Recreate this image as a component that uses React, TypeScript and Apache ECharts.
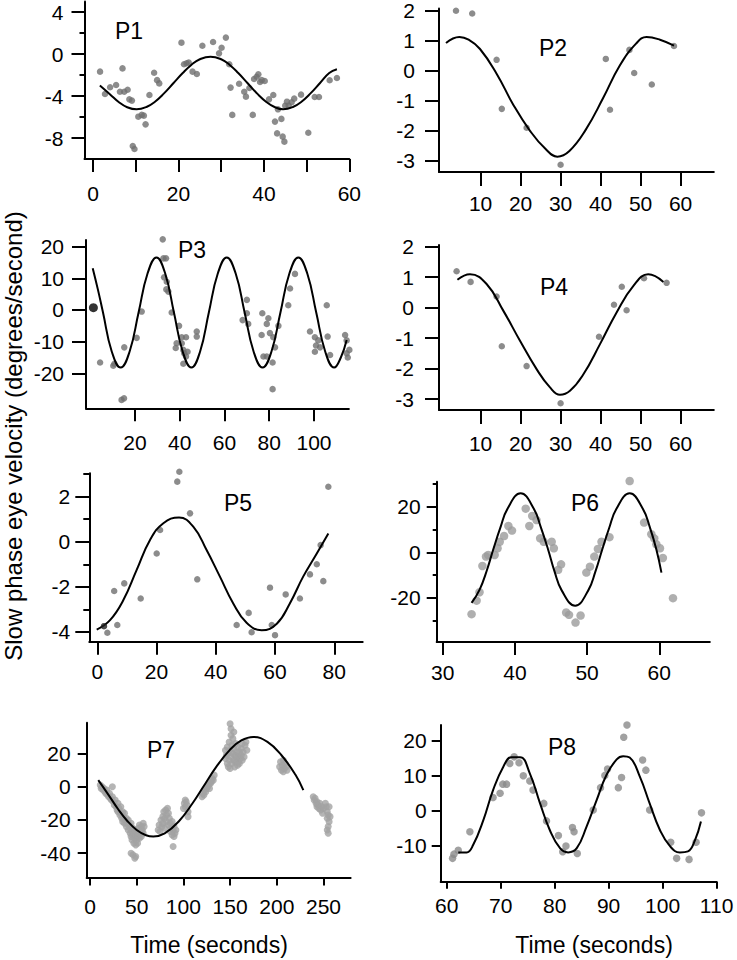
import React, { useEffect, useRef } from "react";
import * as echarts from "echarts";

const FONT = "'Liberation Sans', Arial, Helvetica, sans-serif";
type Pt = [number, number];

// ---------- P1 ----------
const p1Points: Pt[] = [[1.64,-1.68],[2.8,-3.81],[4.0,-3.17],[5.4,-2.95],[6.3,-3.59],[6.9,-1.37],[7.3,-3.59],[8.1,-3.4],[8.5,-4.32],[9.1,-4.44],[9.3,-8.76],[9.7,-9.05],[10.6,-5.97],[11.4,-5.8],[11.9,-5.87],[12.3,-6.7],[13.2,-3.9],[14.3,-1.78],[15.0,-2.49],[15.5,-2.8],[20.7,1.08],[21.3,-0.98],[21.9,-0.88],[22.4,-0.81],[23.3,-1.68],[24.3,-1.9],[25.6,0.79],[28.1,1.14],[29.5,0.06],[30.1,0.6],[31.1,1.56],[31.9,-0.98],[32.2,-3.2],[32.6,-5.8],[34.2,-2.83],[35.4,-3.59],[35.8,-4.06],[36.6,-3.24],[37.4,-5.8],[37.7,-2.38],[38.3,-2.17],[38.7,-1.94],[39.1,-2.67],[39.5,-2.49],[40.2,-2.57],[41.2,-4.32],[42.2,-3.9],[42.6,-6.44],[43.1,-7.56],[43.3,-5.27],[44.1,-6.18],[44.4,-7.87],[44.8,-8.35],[45.0,-4.92],[45.4,-4.54],[45.8,-4.92],[46.5,-4.6],[47.1,-4.25],[48.7,-3.87],[50.4,-7.5],[51.9,-4.1],[52.9,-4.1],[55.4,-2.5],[57.1,-2.29]];
const p1Curve: Pt[] = [[1.6,-3.0],[4,-3.85],[6,-4.57],[8,-5.07],[10.2,-5.27],[12.5,-5.05],[14.5,-4.54],[16.5,-3.8],[18.85,-2.76],[21,-1.81],[23,-1.04],[25,-0.5],[27.5,-0.25],[30,-0.5],[32,-1.04],[34,-1.81],[36.15,-2.76],[38.5,-3.8],[40.5,-4.54],[42.5,-5.05],[44.5,-5.27],[46.8,-5.05],[48.8,-4.54],[50.8,-3.8],[53.15,-2.76],[55.3,-1.81],[57.1,-1.45]];

// ---------- P2 ----------
const p2Points: Pt[] = [[3.85,1.99],[7.9,1.9],[14,0.36],[15.3,-1.27],[21.5,-1.9],[30,-3.13],[41.3,0.39],[42.35,-1.3],[47.2,0.69],[48.4,-0.08],[52.8,-0.46],[58.35,0.82]];
const p2Curve: Pt[] = [[1.35,0.92],[4.7,1.12],[7,1.03],[9.85,0.72],[14,-0.1],[18.2,-1.14],[22.35,-2.0],[26.2,-2.6],[29.2,-2.86],[32.2,-2.67],[36.3,-1.96],[40.6,-0.92],[44.8,0.17],[48.8,0.89],[51.5,1.12],[54.85,1.03],[58.35,0.83]];

// ---------- P3 ----------
const p3Points: Pt[] = [[4.4,-16.6],[10.3,-17.6],[10.8,-17],[14,-28.4],[15.1,-27.9],[15.2,-11.8],[20.75,-8.8],[23,-0.5],[32.4,22.3],[32.7,16.3],[33.85,16.3],[33,10.3],[34.2,8.9],[34,6.5],[34.9,5.8],[36.4,-0.8],[39.7,-5],[38.6,-10.5],[38.2,-12],[40.9,-8.6],[42.8,-8.6],[40.9,-10.5],[41.6,-12.6],[42,-13.7],[43.5,-13.2],[41.6,-17],[42.8,-14.7],[47.6,-6.8],[47.6,-8.4],[70,3.2],[70,-1.05],[68.1,-3.2],[70.6,-4.4],[76.9,-1.05],[76.6,-7.9],[77.4,-14.7],[78.9,-14.7],[79.6,-2.6],[78.9,-4.4],[80.3,-7.3],[81.8,-8.6],[82.6,-11.8],[81.5,-16.6],[81.5,-25],[84.1,-5],[88.5,1.5],[89.3,6.8],[91.5,11.4],[98.2,-6.8],[100.4,-8.6],[100.9,-11.2],[100.4,-13.2],[101.9,-9.6],[102.7,-11.8],[105.7,1.5],[106.1,-8.4],[107.2,-14.2],[113.9,-7.9],[114.6,-9.6],[114.6,-13.7],[115.1,-15],[115.8,-12.6]];
const p3Start: Pt[] = [[1.4,0.73]];
const p3Curve: Pt[] = [[1.1,13.2],[3.4,6.5],[5.7,-0.8],[9.6,-13.1],[13.6,-18.2],[17.6,-13.1],[21.6,-0.8],[25.6,11.5],[29.6,16.6],[33.5,11.5],[37.4,-0.8],[41.3,-13.1],[45.2,-18.2],[49.1,-13.1],[53.0,-0.8],[57.0,11.5],[61.0,16.6],[65.0,11.5],[69.0,-0.8],[73.0,-13.1],[77.0,-18.2],[81.0,-13.1],[85.0,-0.8],[89.0,11.5],[93.0,16.6],[97.0,11.5],[101.0,-0.8],[105.0,-13.1],[109.0,-18.2],[112.0,-15],[114.6,-9.5]];

// ---------- P4 ----------
const p4Points: Pt[] = [[4,1.19],[7.5,0.84],[14,0.36],[15.3,-1.27],[21.5,-1.92],[30,-3.14],[39.6,-0.96],[43.35,0.09],[45.3,0.68],[46.5,-0.09],[50.85,0.96],[56.5,0.81]];
const p4Curve: Pt[] = [[4.2,0.91],[7.35,1.09],[11.5,0.77],[15.7,-0.11],[19.85,-1.09],[24,-2.02],[27.35,-2.62],[29.85,-2.86],[32.35,-2.73],[35.7,-2.19],[39.85,-1.2],[44,-0.16],[48.2,0.71],[51.9,1.09],[55.7,0.84]];

// ---------- P5 ----------
const p5Points: Pt[] = [[3.4,-4.04],[5.7,-2.19],[6.75,-3.7],[9.1,-1.85],[14.65,-2.52],[20.05,-0.52],[21.2,0.52],[27,2.67],[27.7,3.11],[31.3,1.26],[33.75,-1.67],[47.05,-3.7],[51.1,-3.16],[52.1,-4.02],[58.3,-2.04],[58.9,-3.7],[60,-4.15],[63.6,-2.34],[68.4,-2.52],[71.8,-1.45],[74.1,-1.0],[75.4,-0.15],[76.3,-1.75],[78,2.44]];
const p5Start: Pt[] = [[2.26,-3.75]];
const p5Curve: Pt[] = [[-0.2,-3.9],[4.3,-3.48],[8.8,-2.59],[13.3,-1.25],[17.8,0.08],[22.3,0.82],[27.6,1.08],[32.4,0.67],[36.9,-0.37],[41.4,-1.55],[45.9,-2.74],[50.4,-3.6],[55.5,-3.93],[60.6,-3.64],[65,-2.74],[69.5,-1.55],[74.1,-0.52],[78,0.37]];

// ---------- P6 ----------
const p6Points: Pt[] = [[34.0,-27.1],[34.7,-21.2],[35.1,-17.5],[35.5,-6.0],[36.0,-1.9],[36.3,-1.2],[37.2,-1.2],[37.6,1.75],[37.9,4.6],[38.5,7.1],[39.1,11.5],[39.6,9.5],[41.5,19.1],[42.0,11.5],[42.4,15.9],[43.0,14.1],[43.5,6.1],[44.0,4.6],[45.1,4.6],[45.4,1.75],[46.0,-7.7],[46.4,-5.3],[47.1,-26.4],[47.5,-27.4],[48.4,-30.8],[49.1,-27.7],[49.9,-8.9],[50.4,-6.3],[51.0,-1.9],[51.5,1.45],[52.0,4.6],[53.1,6.6],[55.9,31.2],[57.9,13.0],[58.9,7.9],[59.3,6.1],[59.6,3.5],[60.1,1.75],[60.5,-2.5],[61.9,-20.1]];
const p6Curve: Pt[] = [[34.0,-22.2],[35.1,-16.5],[36.1,-8.1],[37.0,1.2],[38.0,10.9],[39.0,19.2],[40.8,25.8],[42.6,19.2],[43.6,10.9],[44.6,1.2],[45.5,-8.5],[46.5,-16.8],[48.35,-23.4],[50.15,-16.8],[51.15,-8.5],[52.1,1.2],[53.05,10.5],[54.05,18.9],[55.9,25.8],[57.7,19.2],[58.7,10.9],[59.6,1.2],[60.3,-8.9]];

// ---------- P7 ----------
const p7Points: Pt[] = [
  [11,1],[12,-1],[13,0],[14,-2],[15,-1],[16,-3],[17,-4],[18,-2],[19,-5],[20,-6],[21,-4],[22,-7],[23,-8],[24,0],[24,-6],[25,-9],[26,-11],[27,-8],[28,-12],[29,-14],[30,-10],[30,-15],[31,-13],[32,-17],[33,-12],[33,-16],[34,-19],[35,-15],[35,-21],[36,-18],[37,-22],[37,-16],[38,-20],[39,-24],[39,-19],[40,-22],[41,-26],[41,-20],[42,-23],[43,-28],[43,-25],[44,-30],[44,-22],[45,-27],[45,-32],[46,-25],[46,-29],[47,-34],[47,-28],[48,-31],[48,-26],[49,-35],[49,-29],[50,-32],[50,-27],[51,-30],[51,-34],[52,-28],[52,-25],[53,-31],[53,-23],[54,-27],[55,-24],[55,-30],[56,-26],[57,-22],[57,-28],[58,-24],[44,-40],[46,-41],[49,-42],[48,-43],
  [73,-26],[74,-23],[75,-27],[76,-20],[77,-24],[78,-18],[78,-22],[79,-15],[80,-19],[80,-25],[81,-14],[82,-17],[82,-21],[83,-13],[84,-16],[84,-23],[85,-19],[86,-22],[86,-27],[87,-25],[88,-21],[88,-29],[89,-26],[90,-30],[90,-24],[91,-28],[89,-36],[92,-26],
  [100,-13],[101,-10],[102,-8],[102,-12],[103,-9],[104,-11],[105,-15],[105,-18],
  [120,-6],[121,-4],[122,-5],[123,-2],[124,-3],[125,-1],[126,0],[127,1],[128,-1],[129,2],[130,3],[131,5],[132,4],[133,7],
  [145,22],[145,17],[146,19],[147,24],[147,14],[148,20],[148,12],[149,16],[149,27],[150,38],[150,22],[150,11],[151,31],[151,18],[152,25],[152,14],[153,20],[153,29],[154,16],[154,23],[155,12],[155,19],[156,26],[156,15],[157,21],[157,17],[158,13],[158,24],[159,18],[159,15],[160,21],[160,14],[161,17],[162,23],[162,19],[163,16],[163,26],[164,21],[165,18],[166,25],[167,27],[168,22],[154,33],[151,35],
  [203,12],[204,15],[205,10],[206,13],[207,9],[207,16],[208,11],[209,14],[210,12],[211,10],
  [239,-6],[240,-8],[241,-7],[242,-10],[243,-9],[243,-12],[244,-11],[245,-13],[246,-10],[247,-14],[248,-12],[249,-16],[250,-13],[252,-10],[253,-12],[254,-15],[254,-19],[255,-17],[256,-21],[255,-24],[254,-26],[255,-28],[257,-18],[256,-12]
];
const p7Curve: Pt[] = [[8.9,4.0],[20,-5.0],[30,-13.4],[40,-20.6],[50,-26.0],[60,-29.2],[67.8,-30],[80,-28.1],[95,-20.9],[110,-9.8],[121.3,0],[135,11.8],[150,22.4],[162,27.9],[174.8,30],[190,27.0],[205,19.0],[220,7.2],[228.4,-2.0]];

// ---------- P8 ----------
const p8Points: Pt[] = [[61.1,-13.6],[61.35,-12.4],[62.15,-11.3],[64.3,-6.0],[68.6,3.8],[69.9,5.0],[70.4,7.6],[71.1,7.6],[71.7,13.5],[72.5,15.4],[73.4,13.7],[74.2,10.0],[75.4,8.5],[76.0,5.9],[78.0,2.1],[78.5,-2.9],[80.7,-7.1],[81.5,-11.7],[82.1,-10.1],[83.3,-4.8],[83.6,-6.0],[84.2,-12.2],[87.15,0.2],[88.5,6.6],[89.3,10.1],[89.8,11.9],[91.8,6.6],[92.4,9.5],[92.8,21.0],[93.4,24.5],[96.3,14.5],[96.9,11.6],[97.6,0.2],[101.5,-9.0],[102.6,-13.6],[104.9,-13.9],[106.2,-9.0],[107.2,-0.6]];
const p8Curve: Pt[] = [[62.15,-11.9],[63.7,-11.9],[64.9,-9.8],[66.8,-2.66],[68.6,5.9],[70.5,12.6],[72.0,15.3],[73.6,15.3],[75.4,10.7],[77.3,2.1],[79.1,-5.5],[81.0,-10.7],[82.5,-11.9],[84.1,-10.7],[85.9,-4.6],[87.8,3.1],[89.6,10.2],[91.5,14.7],[92.7,15.6],[93.9,15.2],[95.8,9.7],[97.6,2.1],[99.5,-5.5],[101.4,-10.2],[103.2,-11.9],[104.7,-11.6],[106.0,-8.4],[107.1,-3.1]];

// ---------- tick values ----------
const p1XTicks = [0,10,20,30,40,50,60], p1XLabels = [0,20,40,60], p1YLabels = [-8,-4,0,4], p1YMinor = [-6,-2,2];
const p2XTicks = [10,20,30,40,50,60], p2YLabels = [-3,-2,-1,0,1,2];
const p3XTicks = [20,40,60,80,100], p3YLabels = [-20,-10,0,10,20];
const p5XTicks = [0,20,40,60,80], p5YLabels = [-4,-2,0,2], p5YMinor = [-3,-1,1,3];
const p6XTicks = [30,40,50,60], p6YLabels = [-20,0,20], p6YMinor = [-30,-10,10,30];
const p7XTicks = [0,50,100,150,200,250], p7YLabels = [-40,-20,0,20];
const p8XTicks = [60,70,80,90,100,110], p8YLabels = [-10,0,10,20];

interface Panel {
  name: string; lx: number; ly: number;
  left: number; top: number; width: number; height: number;
  xMin: number; xMax: number; yMin: number; yMax: number;
  xTicks: number[]; xLabels: number[]; yLabels: number[]; yMinor?: number[];
  xTickLen: number; yTickLen: number; yMinorLen?: number; xMargin: number; yMargin: number;
  points: Pt[]; curve: Pt[]; extra?: Pt[]; extraColor?: string;
  color: string; size: number;
}

const panels: Panel[] = [
  { name: "P1", lx: 129, ly: 31, left: 84.5, top: 1.5, width: 264.8, height: 157.5, xMin: -2, xMax: 60, yMin: -10, yMax: 5,
    xTicks: p1XTicks, xLabels: p1XLabels, yLabels: p1YLabels, yMinor: p1YMinor, xTickLen: 13, yTickLen: 13, yMinorLen: 5, xMargin: 24, yMargin: 21,
    points: p1Points, curve: p1Curve, color: "#6f6f6f", size: 6.5 },
  { name: "P2", lx: 553, ly: 48, left: 439, top: 6, width: 274.8, height: 166, xMin: -0.4, xMax: 68.3, yMin: -3.37, yMax: 2.07,
    xTicks: p2XTicks, xLabels: p2XTicks, yLabels: p2YLabels, xTickLen: 14, yTickLen: 14, xMargin: 21, yMargin: 24,
    points: p2Points, curve: p2Curve, color: "#6f6f6f", size: 6.5 },
  { name: "P3", lx: 192, ly: 250, left: 86, top: 240, width: 262.9, height: 168.3, xMin: -1.9, xMax: 115.6, yMin: -31.05, yMax: 22.1,
    xTicks: p3XTicks, xLabels: p3XTicks, yLabels: p3YLabels, xTickLen: 13, yTickLen: 14, xMargin: 24, yMargin: 22,
    points: p3Points, curve: p3Curve, extra: p3Start, extraColor: "#000", color: "#6f6f6f", size: 6.5 },
  { name: "P4", lx: 554, ly: 287, left: 439, top: 245, width: 274.8, height: 165, xMin: -0.4, xMax: 68.3, yMin: -3.36, yMax: 2.05,
    xTicks: p2XTicks, xLabels: p2XTicks, yLabels: p2YLabels, xTickLen: 14, yTickLen: 14, xMargin: 23, yMargin: 25,
    points: p4Points, curve: p4Curve, color: "#6f6f6f", size: 6.5 },
  { name: "P5", lx: 238, ly: 503, left: 89.3, top: 473.3, width: 273.4, height: 168.4, xMin: -2.7, xMax: 89.6, yMin: -4.44, yMax: 3.04,
    xTicks: p5XTicks, xLabels: p5XTicks, yLabels: p5YLabels, yMinor: p5YMinor, xTickLen: 13, yTickLen: 14, yMinorLen: 6, xMargin: 19, yMargin: 19,
    points: p5Points, curve: p5Curve, extra: p5Start, extraColor: "#222", color: "#6f6f6f", size: 6.5 },
  { name: "P6", lx: 585, ly: 503, left: 436.7, top: 481.7, width: 273.1, height: 160.3, xMin: 29.17, xMax: 67, yMin: -39.3, yMax: 30.9,
    xTicks: p6XTicks, xLabels: p6XTicks, yLabels: p6YLabels, yMinor: p6YMinor, xTickLen: 13, yTickLen: 10, yMinorLen: 4, xMargin: 20, yMargin: 16,
    points: p6Points, curve: p6Curve, color: "#9b9b9b", size: 8.5 },
  { name: "P7", lx: 161, ly: 750, left: 86.7, top: 722.7, width: 263.9, height: 154.7, xMin: -3.5, xMax: 279, yMin: -54.6, yMax: 38.6,
    xTicks: p7XTicks, xLabels: p7XTicks, yLabels: p7YLabels, xTickLen: 8, yTickLen: 9, xMargin: 19, yMargin: 16,
    points: p7Points, curve: p7Curve, color: "#a2a2a2", size: 7 },
  { name: "P8", lx: 562, ly: 747, left: 440.7, top: 725, width: 275.9, height: 156.8, xMin: 58.9, xMax: 110, yMin: -20.3, yMax: 24.5,
    xTicks: p8XTicks, xLabels: p8XTicks, yLabels: p8YLabels, xTickLen: 7, yTickLen: 9, xMargin: 13, yMargin: 14,
    points: p8Points, curve: p8Curve, color: "#8a8a8a", size: 7.5 },
];

function buildOption() {
  const line = { color: "#000", width: 2 };
  const label = { fontSize: 21, color: "#000", fontFamily: FONT };
  const grid: any[] = [], xAxis: any[] = [], yAxis: any[] = [], series: any[] = [], graphic: any[] = [];
  panels.forEach((p, i) => {
    grid.push({ left: p.left, top: p.top, width: p.width, height: p.height });
    xAxis.push({
      type: "value", gridIndex: i, min: p.xMin, max: p.xMax, position: "bottom",
      axisLine: { show: true, onZero: false, lineStyle: line },
      axisTick: { show: true, inside: false, length: p.xTickLen, customValues: p.xTicks, lineStyle: line },
      axisLabel: { ...label, margin: p.xMargin, customValues: p.xLabels },
      splitLine: { show: false },
    });
    const mainIdx = yAxis.length;
    yAxis.push({
      type: "value", gridIndex: i, min: p.yMin, max: p.yMax, position: "left",
      axisLine: { show: true, onZero: false, lineStyle: line },
      axisTick: { show: true, inside: false, length: p.yTickLen, customValues: p.yLabels, lineStyle: line },
      axisLabel: { ...label, margin: p.yMargin, customValues: p.yLabels },
      splitLine: { show: false },
    });
    if (p.yMinor) {
      yAxis.push({
        type: "value", gridIndex: i, min: p.yMin, max: p.yMax, position: "left",
        axisLine: { show: false, onZero: false },
        axisTick: { show: true, inside: false, length: p.yMinorLen, customValues: p.yMinor, lineStyle: line },
        axisLabel: { show: false },
        splitLine: { show: false },
      });
    }
    series.push({
      type: "scatter", xAxisIndex: i, yAxisIndex: mainIdx, data: p.points, symbol: "circle",
      symbolSize: p.size, itemStyle: { color: p.color }, clip: false, z: 2,
    });
    if (p.extra) {
      series.push({
        type: "scatter", xAxisIndex: i, yAxisIndex: mainIdx, data: p.extra, symbol: "circle",
        symbolSize: p.name === "P3" ? 9 : 6.5, itemStyle: { color: p.extraColor }, clip: false, z: 4,
      });
    }
    series.push({
      type: "line", xAxisIndex: i, yAxisIndex: mainIdx, data: p.curve, smooth: 0.45,
      showSymbol: false, symbol: "none", lineStyle: { color: "#000", width: 2 }, clip: false, z: 3,
    });
    graphic.push({
      type: "text", x: p.lx, y: p.ly, z: 10,
      style: { text: p.name, fontSize: 23, fontFamily: FONT, fill: "#000", align: "center", verticalAlign: "middle" },
    });
  });
  graphic.push({
    type: "text", x: 13.5, y: 436, rotation: Math.PI / 2, z: 10,
    style: { text: "Slow phase eye velocity (degrees/second)", fontSize: 24, fontFamily: FONT, fill: "#000", align: "center", verticalAlign: "middle" },
  });
  graphic.push({
    type: "text", x: 209, y: 945, z: 10,
    style: { text: "Time (seconds)", fontSize: 23, fontFamily: FONT, fill: "#000", align: "center", verticalAlign: "middle" },
  });
  graphic.push({
    type: "text", x: 594, y: 945, z: 10,
    style: { text: "Time (seconds)", fontSize: 23, fontFamily: FONT, fill: "#000", align: "center", verticalAlign: "middle" },
  });
  return { animation: false, backgroundColor: "#fff", textStyle: { fontFamily: FONT }, grid, xAxis, yAxis, series, graphic };
}

export default function App() {
  const ref = useRef<HTMLDivElement>(null);
  useEffect(() => {
    document.body.style.margin = "0";
    if (!ref.current) return;
    const chart = echarts.init(ref.current, null, { renderer: "svg" });
    chart.setOption(buildOption() as any);
    return () => chart.dispose();
  }, []);
  return <div ref={ref} style={{ position: "absolute", left: 0, top: 0, width: 737, height: 960, background: "#fff" }} />;
}
